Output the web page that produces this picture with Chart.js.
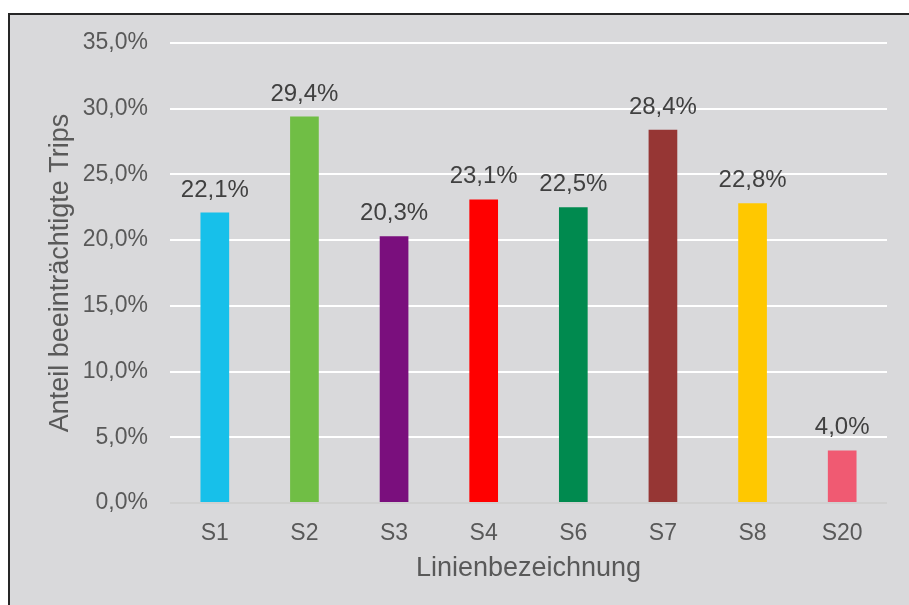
<!DOCTYPE html>
<html>
<head>
<meta charset="utf-8">
<script src="https://cdn.jsdelivr.net/npm/chart.js@4"></script>
<style>
  html, body { margin: 0; padding: 0; background: #fff; overflow: hidden; }
  #frame {
    position: absolute; left: 8px; top: 13px; width: 1000px; height: 700px;
    border-top: 2px solid #262626; border-left: 2px solid #262626;
    background: #d9d9db;
  }
  #wrap { position: absolute; left: 0; top: 0; width: 909px; height: 605px; }
</style>
</head>
<body>
<div id="frame"></div>
<div id="wrap"><canvas id="chart"></canvas></div>
<script>
const lines = ['S1', 'S2', 'S3', 'S4', 'S6', 'S7', 'S8', 'S20'];
const shares = [22.1, 29.4, 20.3, 23.1, 22.5, 28.4, 22.8, 4.0];
const barColors = ['#17c0ea', '#70be45', '#7a0f7d', '#ff0000', '#008a4f', '#963634', '#ffc800', '#f05a72'];

const FONT = "'Liberation Sans', Arial, sans-serif";
const pct = v => v.toFixed(1).replace('.', ',') + '%';

// no datalabels plugin available, so draw the values by hand
const valueLabels = {
    id: 'valueLabels',
    afterDatasetsDraw(chart) {
        const ctx = chart.ctx;
        const meta = chart.getDatasetMeta(0);
        ctx.save();
        ctx.font = `24px ${FONT}`;
        ctx.fillStyle = '#404040';
        ctx.textAlign = 'center';
        ctx.textBaseline = 'alphabetic';
        meta.data.forEach((bar, i) => {
            ctx.fillText(pct(shares[i]), bar.x, bar.y - 16);
        });
        ctx.restore();
    }
};

new Chart(document.getElementById('chart'), {
    type: 'bar',
    plugins: [valueLabels],
    data: {
        labels: lines,
        datasets: [{
            data: shares,
            backgroundColor: barColors,
            categoryPercentage: 1,
            barPercentage: 0.32
        }]
    },
    options: {
        animation: false,
        responsive: true,
        maintainAspectRatio: false,
        layout: { padding: { left: 0, right: 22, top: 43, bottom: 0 } },
        plugins: { legend: { display: false }, tooltip: { enabled: false } },
        scales: {
            x: {
                grid: { display: false },
                border: { display: false },
                ticks: { color: '#595959', font: { family: FONT, size: 23 }, padding: 9 },
                title: {
                    display: true, text: 'Linienbezeichnung', color: '#595959',
                    font: { family: FONT, size: 27 }, padding: { top: 0, bottom: 20 }
                },
                afterFit: s => { s.height = 102; }
            },
            y: {
                min: 0, max: 35,
                grid: {
                    color: c => c.tick && c.tick.value === 0 ? '#d0d0d0' : '#ffffff',
                    lineWidth: 2, drawTicks: false
                },
                border: { display: false },
                ticks: {
                    stepSize: 5, color: '#595959', padding: 22,
                    font: { family: FONT, size: 23 },
                    callback: v => pct(v)
                },
                title: {
                    display: true, text: 'Anteil beeinträchtigte Trips', color: '#595959',
                    font: { family: FONT, size: 27 }, padding: { top: 44, bottom: 0 }
                },
                afterFit: s => { s.width = 170; }
            }
        }
    }
});
</script>
</body>
</html>
